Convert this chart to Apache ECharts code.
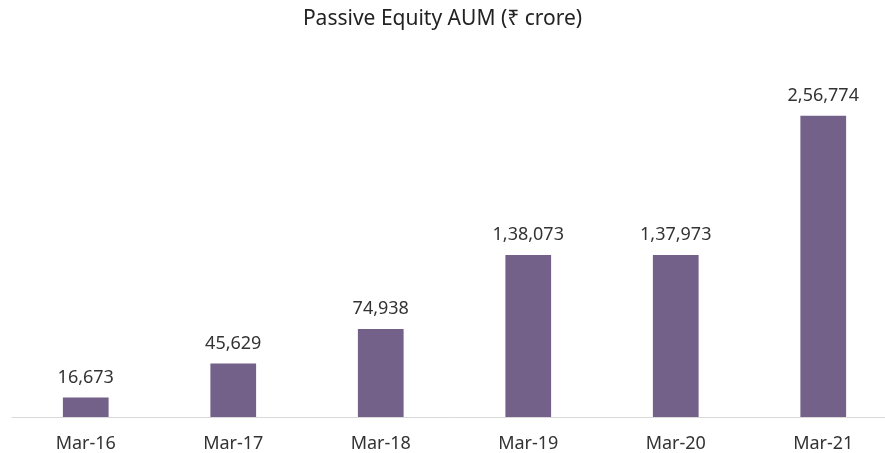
<!DOCTYPE html>
<html>
<head>
<meta charset="utf-8">
<title>Passive Equity AUM</title>
<script src="https://cdn.jsdelivr.net/npm/echarts@6/dist/echarts.min.js"></script>
<style>
  html, body { margin: 0; padding: 0; width: 100%; height: 100%; background: #fff; }
  #main { width: 885px; height: 453px; }
</style>
</head>
<body>
<div id="main"></div>
<script>
  // data
  const categories = ['Mar-16', 'Mar-17', 'Mar-18', 'Mar-19', 'Mar-20', 'Mar-21'];
  const aum = [16673, 45629, 74938, 138073, 137973, 256774];

  // Indian digit grouping: 2,56,774
  const fmtIN = (v) => {
    const s = String(Math.round(v));
    if (s.length <= 3) return s;
    const last3 = s.slice(-3);
    const rest = s.slice(0, -3).replace(/\B(?=(\d{2})+(?!\d))/g, ',');
    return rest + ',' + last3;
  };

  const chart = echarts.init(document.getElementById('main'));
  chart.setOption({
    animation: false,
    textStyle: { fontFamily: 'Noto Sans' },
    title: {
      text: 'Passive Equity AUM (₹ crore)',
      left: 'center',
      top: 4,
      textStyle: { fontSize: 21, fontWeight: 'normal', color: '#222' }
    },
    grid: { left: 12, top: 65, width: 885, bottom: 36, outerBoundsMode: 'none' },
    xAxis: {
      type: 'category',
      data: categories,
      axisLine: { lineStyle: { color: '#d9d9d9', width: 1 } },
      axisTick: { show: false },
      axisLabel: { fontSize: 18, color: '#333', margin: 18 }
    },
    yAxis: {
      type: 'value',
      min: 0,
      max: 300000,
      show: false,
      splitLine: { show: false }
    },
    series: [{
      type: 'bar',
      data: aum,
      barWidth: '31%',
      itemStyle: { color: '#736189' },
      label: {
        show: true,
        position: 'top',
        distance: 11,
        fontSize: 18,
        color: '#333',
        formatter: (p) => fmtIN(p.value)
      }
    }]
  });
</script>
</body>
</html>
